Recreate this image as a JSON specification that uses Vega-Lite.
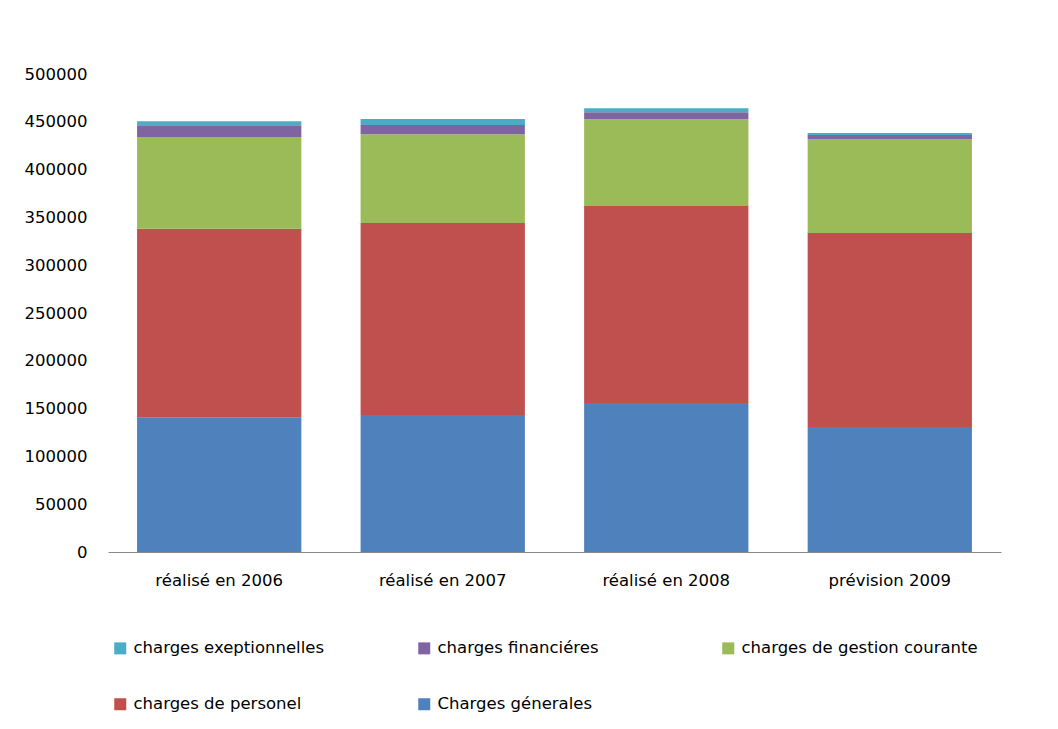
{
  "$schema": "https://vega.github.io/schema/vega-lite/v6.json",
  "width": 893,
  "height": 478,
  "autosize": {"type": "none"},
  "padding": {"left": 108, "top": 74, "right": 57, "bottom": 177},
  "background": "white",
  "data": {
    "values": [
      {"periode": "réalisé en 2006", "type": "Charges génerales", "ord": 1, "valeur": 141000},
      {"periode": "réalisé en 2006", "type": "charges de personel", "ord": 2, "valeur": 197000},
      {"periode": "réalisé en 2006", "type": "charges de gestion courante", "ord": 3, "valeur": 96000},
      {"periode": "réalisé en 2006", "type": "charges financiéres", "ord": 4, "valeur": 12500},
      {"periode": "réalisé en 2006", "type": "charges exeptionnelles", "ord": 5, "valeur": 4000},
      {"periode": "réalisé en 2007", "type": "Charges génerales", "ord": 1, "valeur": 143300},
      {"periode": "réalisé en 2007", "type": "charges de personel", "ord": 2, "valeur": 200800},
      {"periode": "réalisé en 2007", "type": "charges de gestion courante", "ord": 3, "valeur": 92800},
      {"periode": "réalisé en 2007", "type": "charges financiéres", "ord": 4, "valeur": 9800},
      {"periode": "réalisé en 2007", "type": "charges exeptionnelles", "ord": 5, "valeur": 6200},
      {"periode": "réalisé en 2008", "type": "Charges génerales", "ord": 1, "valeur": 155900},
      {"periode": "réalisé en 2008", "type": "charges de personel", "ord": 2, "valeur": 206000},
      {"periode": "réalisé en 2008", "type": "charges de gestion courante", "ord": 3, "valeur": 90700},
      {"periode": "réalisé en 2008", "type": "charges financiéres", "ord": 4, "valeur": 7300},
      {"periode": "réalisé en 2008", "type": "charges exeptionnelles", "ord": 5, "valeur": 4200},
      {"periode": "prévision 2009", "type": "Charges génerales", "ord": 1, "valeur": 130700},
      {"periode": "prévision 2009", "type": "charges de personel", "ord": 2, "valeur": 203000},
      {"periode": "prévision 2009", "type": "charges de gestion courante", "ord": 3, "valeur": 98300},
      {"periode": "prévision 2009", "type": "charges financiéres", "ord": 4, "valeur": 4200},
      {"periode": "prévision 2009", "type": "charges exeptionnelles", "ord": 5, "valeur": 2100}
    ]
  },
  "mark": {"type": "bar"},
  "encoding": {
    "x": {
      "field": "periode",
      "type": "nominal",
      "sort": null,
      "scale": {"paddingInner": 0.265, "paddingOuter": 0.13},
      "axis": {
        "title": null,
        "labelAngle": 0,
        "ticks": false,
        "domainColor": "#888888",
        "labelPadding": 20,
        "labelFont": "DejaVu Sans",
        "labelFontSize": 16.5,
        "labelColor": "#000000"
      }
    },
    "y": {
      "field": "valeur",
      "type": "quantitative",
      "stack": "zero",
      "scale": {"domain": [0, 500000], "nice": false},
      "axis": {
        "title": null,
        "values": [0, 50000, 100000, 150000, 200000, 250000, 300000, 350000, 400000, 450000, 500000],
        "format": "d",
        "grid": false,
        "domain": false,
        "ticks": false,
        "labelPadding": 21,
        "labelFont": "DejaVu Sans",
        "labelFontSize": 16.5,
        "labelColor": "#000000"
      }
    },
    "color": {
      "field": "type",
      "type": "nominal",
      "scale": {
        "domain": ["charges exeptionnelles", "charges financiéres", "charges de gestion courante", "charges de personel", "Charges génerales"],
        "range": ["#4BACC6", "#8064A2", "#9BBB59", "#C0504D", "#4F81BD"]
      },
      "legend": {
        "title": null,
        "orient": "none",
        "legendX": 4,
        "legendY": 566,
        "direction": "horizontal",
        "columns": 3,
        "gridAlign": "all",
        "columnPadding": 46,
        "rowPadding": 39,
        "symbolType": "square",
        "symbolSize": 144,
        "symbolStrokeWidth": 0,
        "labelOffset": 5,
        "labelFont": "DejaVu Sans",
        "labelFontSize": 16.5,
        "labelColor": "#000000",
        "labelLimit": 400
      }
    },
    "order": {"field": "ord", "type": "quantitative", "sort": "ascending"}
  },
  "config": {"view": {"stroke": null}}
}
